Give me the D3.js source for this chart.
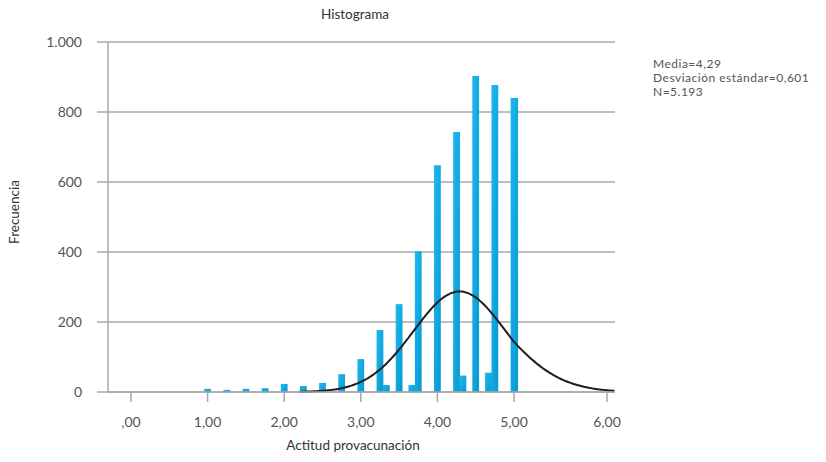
<html>
<head>
<script src="https://d3js.org/d3.v7.min.js"></script>
<style>
body { margin: 0; background: #fff; }
svg { font-family: Lato, "Open Sans", sans-serif; }
.grid line { stroke: #a8a8a8; stroke-width: 1.5; }
.tick-label { font-size: 14px; fill: #555; }
.stats { font-size: 12px; fill: #555; letter-spacing: 0.5px; }
.title-text { font-size: 13.5px; fill: #333; }
</style>
</head>
<body>
<div id="root"></div>
<script>
// bin centers (width 1/12) and frequencies
var binCenters = [1, 1.25, 1.5, 1.75, 2, 2.25, 2.5, 2.75, 3, 3.25, 10/3, 3.5, 11/3, 3.75,
                  4, 4.25, 13/3, 4.5, 14/3, 4.75, 5];
var binCounts  = [9, 6, 9, 11, 23, 17, 26, 51, 94, 177, 20, 251, 20, 402,
                  648, 743, 47, 903, 55, 877, 840];
var binWidth = 1 / 12;

var xTicks = [0, 1, 2, 3, 4, 5, 6];
var xTickLabels = [",00", "1,00", "2,00", "3,00", "4,00", "5,00", "6,00"];
var yTicks = [0, 200, 400, 600, 800, 1000];
var yTickLabels = ["0", "200", "400", "600", "800", "1.000"];

var media = 4.29, desviacion = 0.601, n = 5193;
var statsLines = ["Media=4,29", "Desviación estándar=0,601", "N=5.193"];

var W = 826, H = 462;
var plotLeft = 108, plotRight = 615, plotTop = 42, plotBottom = 392;

var svg = d3.select("#root").append("svg")
  .attr("width", W).attr("height", H);

/* escalas: el eje de SPSS estira el último tramo */
var x = d3.scaleLinear().domain([0, 5, 6]).range([131, 514, 607]);
var y = d3.scaleLinear().domain([0, 1000]).range([plotBottom, plotTop]);

var defs = svg.append("defs");
var grad = defs.append("linearGradient").attr("id", "barGrad")
  .attr("x1", 0).attr("y1", 0).attr("x2", 1).attr("y2", 1);
grad.append("stop").attr("offset", "0%").attr("stop-color", "#1cb9f0");
grad.append("stop").attr("offset", "100%").attr("stop-color", "#0898d0");

/* rejilla */
svg.append("g").attr("class", "grid")
  .selectAll("line").data(yTicks).enter()
  .append("line")
  .attr("x1", plotLeft - 11).attr("x2", plotRight)
  .attr("y1", d => y(d)).attr("y2", d => y(d));

svg.append("line")
  .attr("x1", plotLeft).attr("x2", plotLeft)
  .attr("y1", plotTop).attr("y2", plotBottom)
  .attr("stroke", "#a8a8a8").attr("stroke-width", 1.5);

/* barras */
svg.append("g").selectAll("rect")
  .data(binCenters).enter()
  .append("rect")
  .attr("x", d => x(d - binWidth / 2) - 0.2)
  .attr("width", d => x(d + binWidth / 2) - x(d - binWidth / 2) + 0.4)
  .attr("y", (d, i) => y(binCounts[i]))
  .attr("height", (d, i) => plotBottom - y(binCounts[i]))
  .attr("fill", "url(#barGrad)");

/* curva normal */
var pts = d3.range(2.2, 6.081, 0.02).map(function(v) {
  var z = (v - media) / desviacion;
  return [v, n * binWidth / (desviacion * Math.sqrt(2 * Math.PI)) * Math.exp(-0.5 * z * z)];
});
svg.append("path")
  .attr("d", d3.line().x(d => x(d[0])).y(d => y(d[1])).curve(d3.curveBasis)(pts))
  .attr("fill", "none").attr("stroke", "#1e1e1e").attr("stroke-width", 2);

svg.append("line")
  .attr("x1", plotLeft).attr("x2", plotRight)
  .attr("y1", plotBottom).attr("y2", plotBottom)
  .attr("stroke", "#a8a8a8").attr("stroke-width", 1.5);

/* eje x */
var xg = svg.append("g");
xg.selectAll("line").data(xTicks).enter()
  .append("line")
  .attr("x1", d => x(d)).attr("x2", d => x(d))
  .attr("y1", plotBottom).attr("y2", plotBottom + 10)
  .attr("stroke", "#a8a8a8").attr("stroke-width", 1.5);
xg.selectAll("text").data(xTicks).enter()
  .append("text").attr("class", "tick-label")
  .attr("x", d => x(d)).attr("y", 427)
  .attr("text-anchor", "middle")
  .text((d, i) => xTickLabels[i]);

/* eje y */
svg.append("g").selectAll("text").data(yTicks).enter()
  .append("text").attr("class", "tick-label")
  .attr("x", 82).attr("y", d => y(d) + 5)
  .attr("text-anchor", "end")
  .text((d, i) => yTickLabels[i]);

/* titulos */
svg.append("text").attr("class", "title-text")
  .attr("x", 355).attr("y", 19).attr("text-anchor", "middle")
  .text("Histograma");
svg.append("text").attr("class", "title-text")
  .attr("x", 353).attr("y", 450).attr("text-anchor", "middle")
  .text("Actitud provacunación");
svg.append("text").attr("class", "title-text")
  .attr("transform", "translate(19,212) rotate(-90)")
  .attr("text-anchor", "middle")
  .text("Frecuencia");

svg.append("g").selectAll("text").data(statsLines).enter()
  .append("text").attr("class", "stats")
  .attr("x", 653).attr("y", (d, i) => 68 + i * 14.2)
  .text(d => d);
</script>
</body>
</html>
